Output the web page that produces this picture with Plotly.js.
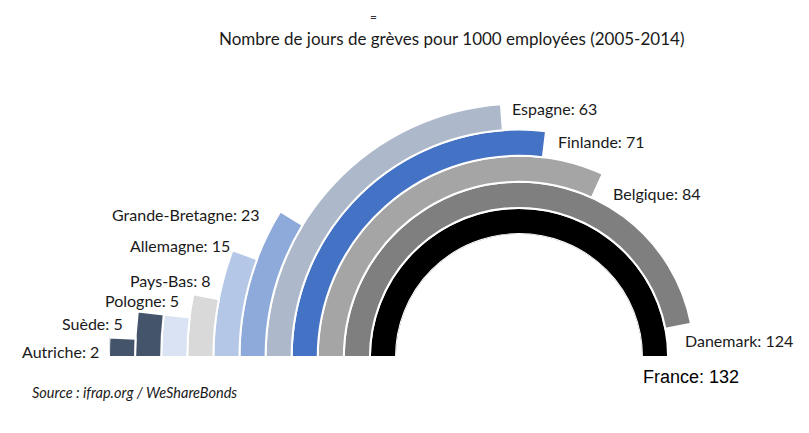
<!DOCTYPE html>
<html>
<head>
<meta charset="utf-8">
<script src="https://cdn.plot.ly/plotly-3.0.1.min.js"></script>
<style>
html,body{margin:0;padding:0;background:#fff;}
#wrap{position:relative;width:809px;height:433px;overflow:hidden;background:#fff;}
#chart{position:absolute;left:0;top:-70px;width:960px;height:520px;}
</style>
</head>
<body>
<div id="wrap"><div id="chart"></div></div>
<script>
// ---- data (innermost ring first) ----
const countries = ["France","Danemark","Belgique","Finlande","Espagne","Grande-Bretagne","Allemagne","Pays-Bas","Pologne","Suède","Autriche"];
const values    = [132, 124, 84, 71, 63, 23, 15, 8, 5, 5, 2];
const titleText = "Nombre de jours de grèves pour 1000 employées (2005-2014)";
const sourceText = "Source : ifrap.org / WeShareBonds";

// ---- styles ----
const colors = ["#000000","#7f7f7f","#a5a5a5","#4472c4","#adb9ca","#8eaadb","#b4c7e7","#d9d9d9","#dae3f3","#44546a","#44546a"];
const W = 960, H = 520, TOP = 70;
const maxVal = Math.max(...values);

// full half-circle corresponds to the largest value
const spans = values.map(v => v / maxVal * 180);

const trace = {
  type: "barpolar",
  r: values.map(() => 1),
  base: values.map((v, i) => i),
  theta: spans.map(s => s / 2),
  width: spans,
  marker: {color: colors, line: {color: "#ffffff", width: 2}},
  hoverinfo: "skip",
  showlegend: false
};

// viewport pixel -> paper coords helpers (for text placement only)
const px = x => x / W;
const py = y => (H - (y + TOP)) / H;

const lblFont = {family: "Lato, 'Open Sans', sans-serif", size: 16, color: "#1a1a1a"};
// label anchor positions in viewport pixels [x, y, xanchor]
const labelPos = {
  "Espagne": [510, 108, "left"],
  "Finlande": [556, 141, "left"],
  "Belgique": [611, 193, "left"],
  "Grande-Bretagne": [110, 214, "left"],
  "Allemagne": [128, 245, "left"],
  "Pays-Bas": [128, 280, "left"],
  "Pologne": [103, 300, "left"],
  "Suède": [60, 323, "left"],
  "Autriche": [20, 351, "left"],
  "Danemark": [683, 340, "left"]
};

const annotations = [];
countries.forEach((c, i) => {
  if (c === "France") return;
  const p = labelPos[c];
  annotations.push({
    text: c + ": " + values[i], x: px(p[0]), y: py(p[1]), xref: "paper", yref: "paper",
    xanchor: p[2], yanchor: "middle", showarrow: false, font: lblFont
  });
});
annotations.push({
  text: "France: " + values[0], x: px(641), y: py(377), xref: "paper", yref: "paper",
  xanchor: "left", yanchor: "middle", showarrow: false,
  font: {family: "'Liberation Sans', Arial, sans-serif", size: 18, color: "#000"}
});
annotations.push({
  text: titleText, x: px(451), y: py(38), xref: "paper", yref: "paper",
  xanchor: "center", yanchor: "middle", showarrow: false, borderpad: 0,
  font: {family: "Lato, 'Open Sans', sans-serif", size: 17, color: "#1a1a1a"}
});
annotations.push({
  text: "=", x: px(373), y: py(17), xref: "paper", yref: "paper",
  xanchor: "center", yanchor: "middle", showarrow: false, borderpad: 0,
  font: {family: "Lato, sans-serif", size: 12, color: "#333"}
});
annotations.push({
  text: "<i>" + sourceText + "</i>", x: px(30), y: py(392), xref: "paper", yref: "paper",
  xanchor: "left", yanchor: "middle", showarrow: false,
  font: {family: "Lato, 'Open Sans', sans-serif", size: 14.5, color: "#1a1a1a"}
});

const layout = {
  width: W, height: H,
  margin: {l: 0, r: 0, t: 0, b: 0},
  paper_bgcolor: "#ffffff",
  plot_bgcolor: "#ffffff",
  showlegend: false,
  polar: {
    domain: {x: [109 / W, 929 / W], y: [(H - (357 + TOP)) / H, (H - (-53 + TOP)) / H]},
    sector: [0, 180],
    hole: 0.30,
    bgcolor: "#ffffff",
    bargap: 0,
    radialaxis: {range: [0, countries.length], visible: false, showgrid: false},
    angularaxis: {rotation: 180, direction: "clockwise", visible: false, showgrid: false}
  },
  annotations: annotations
};

Plotly.newPlot("chart", [trace], layout, {displayModeBar: false, staticPlot: true});
</script>
</body>
</html>
